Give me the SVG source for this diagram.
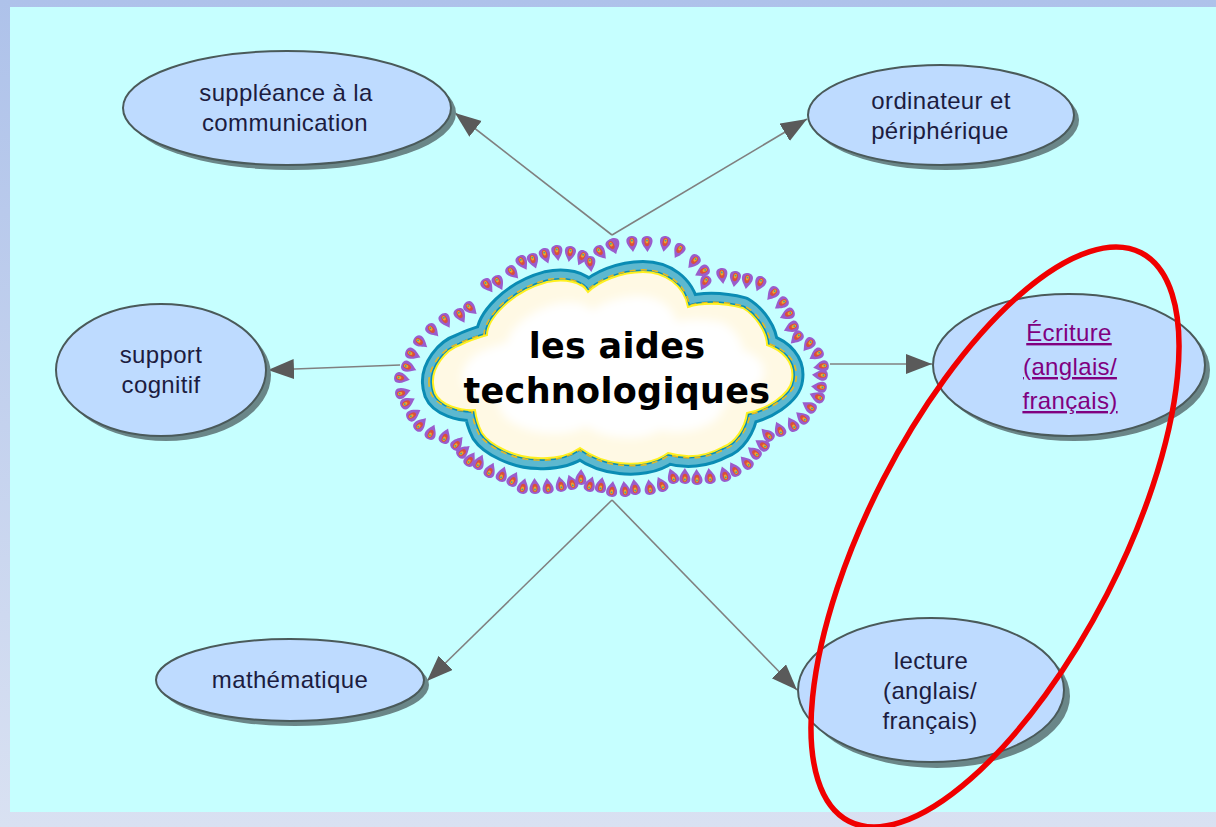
<svg xmlns="http://www.w3.org/2000/svg" xmlns:xlink="http://www.w3.org/1999/xlink" width="1216" height="827" viewBox="0 0 1216 827">
<style>
.n{fill:#bedbff;stroke:#4a5a5a;stroke-width:2}
.s{fill:#6a8688}
.t{font-family:"Liberation Sans",Arial,sans-serif;font-size:24px;fill:#1c1c40;text-anchor:middle;letter-spacing:.35px}
.l{fill:#800080;text-decoration:underline}
.c{stroke:#808080;stroke-width:1.6;fill:none;marker-end:url(#a)}
.h{font-family:"DejaVu Sans",Verdana,sans-serif;font-size:35px;font-weight:bold;fill:#000;text-anchor:middle;letter-spacing:.3px}
</style>
<defs>
<linearGradient id="bg" x1="0" y1="0" x2="0" y2="1"><stop offset="0" stop-color="#aec2ea"/><stop offset="1" stop-color="#d9e1f2"/></linearGradient>
<filter id="b" x="-10%" y="-10%" width="120%" height="120%"><feGaussianBlur stdDeviation=".7"/></filter>
<filter id="b2" x="-10%" y="-10%" width="120%" height="120%"><feGaussianBlur stdDeviation="5"/></filter>
<marker id="a" markerUnits="userSpaceOnUse" markerWidth="28" markerHeight="22" refX="26" refY="10" orient="auto"><path d="M0,0L26,10L0,20Z" fill="#5a5a5a"/></marker>
<marker id="p" markerUnits="userSpaceOnUse" markerWidth="18" markerHeight="22" refX="8" refY="9" orient="auto">
<path d="M8.500,18C6.500,14.500 2,10.500 2.500,6C3,0.800 13,0.800 13.500,6C14,10.500 10.500,14.500 8.500,18Z" fill="#9a5ccc"/>
<ellipse cx="8" cy="8" rx="2.600" ry="4.200" fill="#d8503c"/>
<ellipse cx="8" cy="7" rx="1.500" ry="2.400" fill="#f0a828"/>
<circle cx="8" cy="6.500" r=".9" fill="#3aa0a8"/>
</marker>
<path id="cl" d="M433,383C432,368 445,350 460,345C470,340 480,337 487,335C487,320 510,292 547,282C565,278 582,282 588,292C598,282 620,272 643,272C665,272 684,285 688,307C700,303 720,302 743,308C755,315 767,332 767,345C782,350 795,362 792,380C790,395 765,410 747,413C745,428 735,443 723,447C705,457 685,458 668,453C655,463 635,465 620,463C605,462 590,455 580,448C570,455 555,459 538,458C515,458 490,445 482,433C478,425 476,418 475,410C460,411 440,405 435,393C434,390 433,386 433,383Z"/>
</defs>
<rect width="1216" height="827" fill="url(#bg)"/>
<rect x="10" y="7" width="1206" height="805" fill="#c6ffff"/>
<g id="connectors">
<path class="c" d="M612,235L455,113"/>
<path class="c" d="M612,235L807,119"/>
<path class="c" d="M400,365L268,370"/>
<path class="c" d="M830,364L932,364"/>
<path class="c" d="M612,500L427,681"/>
<path class="c" d="M612,500L797,690"/>
</g>
<g id="node-centre">
<polyline fill="none" stroke="none" marker-start="url(#p)" marker-mid="url(#p)" marker-end="url(#p)" points="614,245 632,243 647,243 665,243 679,250 694,261 703,271 705,282 722,275 735,278 747,280 760,283 773,293 782,303 788,314 792,327 797,337 809,344 817,354 822,366 821,375 820,387 818,397 810,407 803,418 793,425 780,430 768,435 763,445 755,453 747,463 735,470 725,475 710,477 697,478 685,477 673,477 662,485 650,488 635,488 625,490 612,490 601,486 590,485 581,478 572,483 561,485 548,487 535,487 523,487 513,480 502,475 490,471 479,463 470,460 463,452 457,444 445,437 431,433 420,425 413,415 407,403 402,393 401,378 408,367 412,354 420,342 432,330 445,320 460,315 470,308 487,285 498,282 512,272 522,262 533,260 545,255 557,252 570,253 582,257 590,263 600,252 612,246"/>
<use xlink:href="#cl" fill="#5db8cf" stroke="#0a8cb4" stroke-width="24" stroke-linejoin="round"/>
<use xlink:href="#cl" fill="none" stroke="#5db8cf" stroke-width="18" stroke-linejoin="round"/>
<use xlink:href="#cl" fill="none" stroke="#0a8cb4" stroke-width="5"/>
<use xlink:href="#cl" fill="none" stroke="#e8b820" stroke-width="1.600" stroke-dasharray="6 5" transform="translate(615 368) scale(1.022) translate(-615 -368)"/>
<use xlink:href="#cl" fill="#fff9e4" stroke="#fff020" stroke-width="2"/>
<g filter="url(#b2)"><use xlink:href="#cl" fill="#fff" transform="translate(615 367) scale(.84 .74) translate(-615 -368)"/></g>
<text class="h" x="617" y="358">les aides</text>
<text class="h" x="617" y="403">technologiques</text>
</g>
<g id="node-suppleance">
<ellipse class="s" cx="292" cy="113" rx="164" ry="57" filter="url(#b)"/>
<ellipse class="n" cx="287" cy="108" rx="164" ry="57"/>
<text class="t" x="286" y="101">suppléance à la</text>
<text class="t" x="285" y="131">communication</text>
</g>
<g id="node-ordinateur">
<ellipse class="s" cx="946" cy="120" rx="133" ry="50" filter="url(#b)"/>
<ellipse class="n" cx="941" cy="115" rx="133" ry="50"/>
<text class="t" x="941" y="109">ordinateur et</text>
<text class="t" x="940" y="139">périphérique</text>
</g>
<g id="node-support">
<ellipse class="s" cx="166" cy="375" rx="105" ry="66" filter="url(#b)"/>
<ellipse class="n" cx="161" cy="370" rx="105" ry="66"/>
<text class="t" x="161" y="363">support</text>
<text class="t" x="161" y="393">cognitif</text>
</g>
<g id="node-ecriture">
<ellipse class="s" cx="1074" cy="370" rx="136" ry="71" filter="url(#b)"/>
<ellipse class="n" cx="1069" cy="365" rx="136" ry="71"/>
<text class="t l" x="1069" y="341">Écriture</text>
<text class="t l" x="1070" y="375">(anglais/</text>
<text class="t l" x="1070" y="409">français)</text>
</g>
<g id="node-mathematique">
<ellipse class="s" cx="295" cy="685" rx="134" ry="41" filter="url(#b)"/>
<ellipse class="n" cx="290" cy="680" rx="134" ry="41"/>
<text class="t" x="290" y="688">mathématique</text>
</g>
<g id="node-lecture">
<ellipse class="s" cx="937" cy="696" rx="133" ry="72" filter="url(#b)"/>
<ellipse class="n" cx="931" cy="690" rx="133" ry="72"/>
<text class="t" x="931" y="669">lecture</text>
<text class="t" x="930" y="699">(anglais/</text>
<text class="t" x="930" y="729">français)</text>
</g>
<ellipse id="highlight" cx="995" cy="537" rx="125.800" ry="319.600" transform="rotate(27.2 995 537)" fill="none" stroke="#f00000" stroke-width="5.500"/>
</svg>
